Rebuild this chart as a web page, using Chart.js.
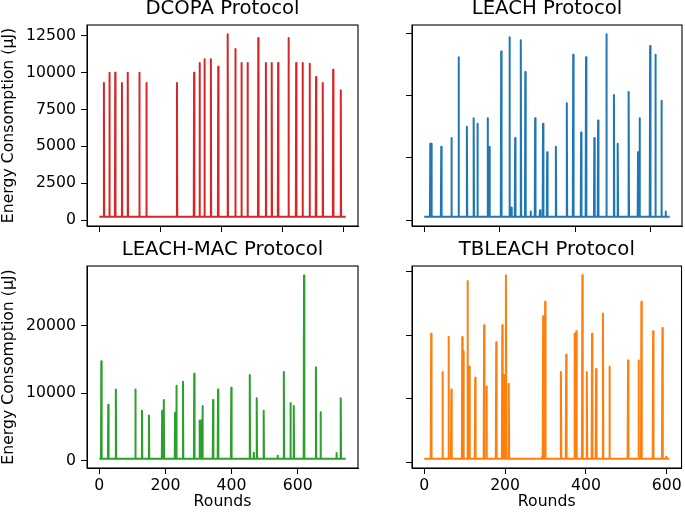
<!DOCTYPE html>
<html>
<head>
<meta charset="utf-8">
<script src="https://cdn.jsdelivr.net/npm/chart.js@4.4.1/dist/chart.umd.min.js"></script>
<style>
  html, body { margin: 0; padding: 0; background: #fff; }
  #wrap { position: relative; width: 685px; height: 515px; }
  #wrap canvas { position: absolute; left: 0; top: 0; }
</style>
</head>
<body>
<div id="wrap">
  <canvas id="dcopa" width="685" height="515"></canvas>
  <canvas id="leach" width="685" height="515"></canvas>
  <canvas id="leachMac" width="685" height="515"></canvas>
  <canvas id="tbleach" width="685" height="515"></canvas>
</div>
<script>
// spike rounds / peak energy (µJ), plus the idle baseline
const dcopaBase = 220, dcopaLast = 806;
const dcopaRounds = [15, 33, 52, 74, 93, 131, 154, 254, 310, 328, 344, 365, 389, 420, 445, 465, 485, 520, 545, 564, 585, 619, 644, 665, 688, 709, 731, 765, 790];
const dcopaPeaks = [9300, 10000, 10000, 9300, 10000, 10000, 9300, 9300, 10000, 10650, 10900, 10900, 10400, 12600, 11600, 10650, 10650, 12350, 10650, 10650, 10650, 12350, 10650, 10650, 10600, 9700, 9300, 10200, 8800];

const leachBase = 265, leachLast = 651;
const leachRounds = [16, 19, 45, 72, 91, 113, 131, 141, 168, 173, 204, 226, 231, 241, 256, 268, 282, 294, 307, 315, 326, 349, 378, 395, 416, 429, 451, 461, 483, 503, 513, 542, 567, 571, 599, 613, 629, 640];
const leachPeaks = [6150, 6150, 5900, 6600, 13100, 7500, 8200, 7750, 8200, 5900, 13550, 14700, 1000, 6600, 14450, 11900, 700, 8200, 800, 7750, 5450, 5900, 9400, 13300, 7050, 13100, 6600, 8000, 14950, 10050, 6150, 10300, 5450, 8200, 14000, 13300, 9600, 700];

const macBase = 250, macLast = 745;
const macRounds = [6, 27, 50, 109, 129, 150, 190, 195, 229, 233, 253, 287, 303, 308, 312, 344, 359, 399, 455, 467, 476, 497, 539, 558, 578, 588, 619, 655, 669, 717, 730];
const macPeaks = [14750, 8300, 10550, 10550, 7400, 6700, 7400, 9000, 7100, 11100, 11700, 12900, 5950, 5950, 8100, 9000, 10550, 10800, 12700, 1150, 9250, 7400, 700, 13150, 8550, 8100, 27500, 13850, 7150, 1100, 9250];

const tbBase = 580, tbLast = 606;
const tbRounds = [17, 45, 60, 67, 94, 97, 107, 112, 126, 148, 154, 178, 193, 198, 202, 209, 292, 294, 299, 338, 351, 372, 376, 391, 402, 415, 425, 442, 458, 504, 530, 537, 566, 589, 598];
const tbPeaks = [20250, 14250, 19750, 11500, 19750, 17500, 28550, 15100, 13350, 21600, 11950, 18900, 21600, 13750, 29450, 12400, 1000, 23000, 25300, 14250, 16950, 20250, 20650, 29450, 14250, 20250, 14700, 23450, 15100, 16050, 16050, 25300, 20650, 21150, 850];

// tick values
const dcopaXTicks = [0, 200, 400, 600, 800];
const macXTicks = [0, 200, 400, 600];
const rightXTicks = [0, 200, 400, 600];
const dcopaYTicks = [0, 2500, 5000, 7500, 10000, 12500];
const leachYTicks = [0, 5000, 10000, 15000];
const macYTicks = [0, 10000, 20000];
const tbYTicks = [0, 10000, 20000, 30000];

const FONT = 'DejaVu Sans';

function spikeSeries(base, last, rounds, peaks) {
    const pts = [{ x: 0, y: base }];
    rounds.forEach((r, i) => {
        pts.push({ x: r - 1, y: base }, { x: r, y: peaks[i] }, { x: r + 1, y: base });
    });
    pts.push({ x: last, y: base });
    return pts;
}

// black box round each plot area, like the matplotlib spines
const frame = {
    id: 'frame',
    afterDraw(chart) {
        const a = chart.chartArea;
        const ctx = chart.ctx;
        ctx.save();
        ctx.strokeStyle = '#000';
        ctx.lineWidth = 1.1;
        ctx.strokeRect(a.left, a.top, a.right - a.left, a.bottom - a.top);
        ctx.restore();
    }
};

function makePanel(id, opt) {
    const xH = opt.xLabels ? 47 : 10;
    new Chart(document.getElementById(id), {
        type: 'line',
        data: {
            datasets: [{
                data: spikeSeries(opt.base, opt.last, opt.rounds, opt.peaks),
                borderColor: opt.color,
                borderWidth: 2,
                borderJoinStyle: 'round',
                pointRadius: 0,
                tension: 0,
                fill: false
            }]
        },
        plugins: [frame],
        options: {
            responsive: false,
            animation: false,
            events: [],
            layout: {
                padding: { left: 0, top: opt.top - 25, right: 685 - opt.right, bottom: 515 - opt.bottom - xH }
            },
            scales: {
                x: {
                    type: 'linear',
                    min: -opt.last * 0.05,
                    max: opt.last * 1.05,
                    afterBuildTicks: s => { s.ticks = opt.xTicks.map(v => ({ value: v })); },
                    afterFit: s => { s.height = xH; },
                    grid: { drawOnChartArea: false, drawTicks: true, tickLength: 6, tickColor: '#000', tickWidth: 1 },
                    border: { display: true, color: '#000', width: 1 },
                    ticks: {
                        display: opt.xLabels,
                        padding: 3,
                        color: '#000',
                        maxRotation: 0,
                        autoSkip: false,
                        font: { family: FONT, size: 15.7 },
                        callback: v => String(v)
                    },
                    title: {
                        display: opt.xLabels,
                        text: 'Rounds',
                        color: '#000',
                        padding: { top: 0, bottom: 4 },
                        font: { family: FONT, size: 15.7 }
                    }
                },
                y: {
                    min: opt.yMin,
                    max: opt.yMax,
                    afterBuildTicks: s => { s.ticks = opt.yTicks.map(v => ({ value: v })); },
                    afterFit: s => { s.width = opt.left; },
                    grid: { drawOnChartArea: false, drawTicks: true, tickLength: 6, tickColor: '#000', tickWidth: 1 },
                    border: { display: true, color: '#000', width: 1 },
                    ticks: {
                        display: opt.yLabels,
                        padding: 5,
                        color: '#000',
                        autoSkip: false,
                        font: { family: FONT, size: 15.7 },
                        callback: v => String(v)
                    },
                    title: {
                        display: opt.yLabels,
                        text: 'Energy Consomption (µJ)',
                        color: '#000',
                        padding: { top: 0, bottom: 0 },
                        font: { family: FONT, size: 15.7 }
                    }
                }
            },
            plugins: {
                legend: { display: false },
                tooltip: { enabled: false },
                title: {
                    display: true,
                    text: opt.title,
                    color: '#000',
                    fullSize: false,
                    padding: { top: 0, bottom: 6.3 },
                    font: { family: FONT, size: 19.7, weight: 'normal', lineHeight: 0.95 }
                }
            }
        }
    });
}

makePanel('dcopa', {
    title: 'DCOPA Protocol', color: '#d62728',
    base: dcopaBase, last: dcopaLast, rounds: dcopaRounds, peaks: dcopaPeaks,
    yMin: -400, yMax: 13230, xTicks: dcopaXTicks, yTicks: dcopaYTicks,
    left: 87, top: 25, right: 358, bottom: 226, xLabels: false, yLabels: true
});
makePanel('leach', {
    title: 'LEACH Protocol', color: '#1f77b4',
    base: leachBase, last: leachLast, rounds: leachRounds, peaks: leachPeaks,
    yMin: -469, yMax: 15684, xTicks: rightXTicks, yTicks: leachYTicks,
    left: 412, top: 25, right: 682, bottom: 226, xLabels: false, yLabels: false
});
makePanel('leachMac', {
    title: 'LEACH-MAC Protocol', color: '#2ca02c',
    base: macBase, last: macLast, rounds: macRounds, peaks: macPeaks,
    yMin: -1114, yMax: 28894, xTicks: macXTicks, yTicks: macYTicks,
    left: 87, top: 266, right: 358, bottom: 468, xLabels: true, yLabels: true
});
makePanel('tbleach', {
    title: 'TBLEACH Protocol', color: '#ff7f0e',
    base: tbBase, last: tbLast, rounds: tbRounds, peaks: tbPeaks,
    yMin: -864, yMax: 30904, xTicks: rightXTicks, yTicks: tbYTicks,
    left: 412, top: 266, right: 682, bottom: 468, xLabels: true, yLabels: false
});
</script>
</body>
</html>
